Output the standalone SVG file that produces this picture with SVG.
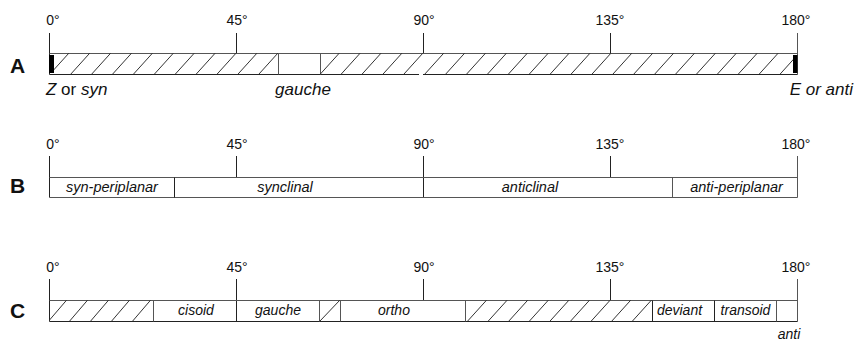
<svg xmlns="http://www.w3.org/2000/svg" width="855" height="341" viewBox="0 0 855 341">
  <defs>
    <style>
      .bg { fill: #ffffff; }
      .deg { font-family: "Liberation Sans", Arial, sans-serif; font-size: 14px; fill: #111; text-anchor: middle; }
      .row { font-family: "Liberation Sans", Arial, sans-serif; font-size: 21px; font-weight: bold; fill: #111; }
      .cap { font-family: "Liberation Sans", Arial, sans-serif; font-size: 17px; fill: #111; }
      .cell { font-family: "Liberation Sans", Arial, sans-serif; font-size: 14.5px; font-style: italic; fill: #111; text-anchor: middle; }
      .cellc { font-family: "Liberation Sans", Arial, sans-serif; font-size: 14px; font-style: italic; fill: #111; text-anchor: middle; }
      .it { font-style: italic; }
      .tick { stroke: #222; stroke-width: 1; fill: none; }
      .edge { stroke: #555; stroke-width: 1; fill: none; }
      .dark { stroke: #222; stroke-width: 1; fill: none; }
      .hatch { stroke: #333; stroke-width: 1; fill: none; }
    </style>
    <clipPath id="clipA1"><rect x="54" y="53" width="224" height="21"/></clipPath>
    <clipPath id="clipA2"><rect x="320" y="53" width="473" height="21"/></clipPath>
    <clipPath id="clipC1"><rect x="49" y="300" width="104" height="21"/></clipPath>
    <clipPath id="clipC3"><rect x="465" y="300" width="187" height="21"/></clipPath>
  </defs>

  <rect class="bg" x="0" y="0" width="855" height="341"/>

  <!-- Row A: Z/E, gauche -->
  <g id="row-a">
    <text class="row" x="10" y="73">A</text>
    <g id="a-scale">
      <text class="deg" x="53" y="25">0°</text>
      <text class="deg" x="237" y="25">45°</text>
      <text class="deg" x="424" y="25">90°</text>
      <text class="deg" x="610" y="25">135°</text>
      <text class="deg" x="796" y="25">180°</text>
      <path class="tick" d="M49.5 33 V74.5 M236.5 33 V53.5 M423.5 33 V53.5 M610.5 33 V53.5"/>
      <path class="edge" d="M797.5 33 V74.5"/>
    </g>
    <g id="a-bar">
      <path class="edge" d="M49.5 53.5 H797.5"/>
      <path class="dark" d="M49.5 74.5 H419 M423 74.5 H797.5"/>
      <path class="edge" d="M278.5 53.5 V74.5 M320.5 53.5 V74.5"/>
      <g class="hatch" clip-path="url(#clipA1)">
        <path d="M50 74 L69 53 M70.9 74 L89.9 53 M91.8 74 L110.8 53 M112.7 74 L131.7 53 M133.6 74 L152.6 53 M154.5 74 L173.5 53 M175.4 74 L194.4 53 M196.3 74 L215.3 53 M217.2 74 L236.2 53 M238.1 74 L257.1 53 M259 74 L278 53"/>
      </g>
      <g class="hatch" clip-path="url(#clipA2)">
        <path d="M320.4 74 L339.4 53 M341.3 74 L360.3 53 M362.2 74 L381.2 53 M383.1 74 L402.1 53 M404 74 L423 53 M424.9 74 L443.9 53 M445.8 74 L464.8 53 M466.7 74 L485.7 53 M487.6 74 L506.6 53 M508.5 74 L527.5 53 M529.4 74 L548.4 53 M550.3 74 L569.3 53 M571.2 74 L590.2 53 M592.1 74 L611.1 53 M613 74 L632 53 M633.9 74 L652.9 53 M654.8 74 L673.8 53 M675.7 74 L694.7 53 M696.6 74 L715.6 53 M717.5 74 L736.5 53 M738.4 74 L757.4 53 M759.3 74 L778.3 53 M780.2 74 L799.2 53"/>
      </g>
      <rect x="49" y="55" width="5" height="18" fill="#000"/>
      <rect x="793" y="55" width="4.5" height="18" fill="#000"/>
    </g>
    <text class="cap" x="46" y="95"><tspan class="it">Z</tspan> or <tspan class="it">syn</tspan></text>
    <text class="cap it" x="303" y="95" text-anchor="middle">gauche</text>
    <text class="cap it" x="853" y="95" text-anchor="end">E or anti</text>
  </g>

  <!-- Row B: Klyne–Prelog ranges -->
  <g id="row-b">
    <text class="row" x="10" y="193">B</text>
    <g id="b-scale">
      <text class="deg" x="53" y="149">0°</text>
      <text class="deg" x="237" y="149">45°</text>
      <text class="deg" x="424" y="149">90°</text>
      <text class="deg" x="610" y="149">135°</text>
      <text class="deg" x="796" y="149">180°</text>
      <path class="tick" d="M49.5 156 V197.5 M236.5 156 V177.5 M423.5 156 V197.5 M610.5 156 V177.5"/>
      <path class="edge" d="M797.5 156 V197.5"/>
    </g>
    <g id="b-bar">
      <path class="edge" d="M49.5 177.5 H797.5 M49.5 197.5 H797.5"/>
      <path class="dark" d="M174.5 177.5 V197.5"/>
      <path class="edge" d="M672.5 177.5 V197.5"/>
    </g>
    <g id="b-syn-periplanar"><text class="cell" x="112" y="191.5">syn-periplanar</text></g>
    <g id="b-synclinal"><text class="cell" x="285" y="191.5">synclinal</text></g>
    <g id="b-anticlinal"><text class="cell" x="530" y="191.5">anticlinal</text></g>
    <g id="b-anti-periplanar"><text class="cell" x="736.5" y="191.5">anti-periplanar</text></g>
  </g>

  <!-- Row C: cisoid / gauche / ortho / deviant / transoid / anti -->
  <g id="row-c">
    <text class="row" x="10" y="318">C</text>
    <g id="c-scale">
      <text class="deg" x="53" y="272">0°</text>
      <text class="deg" x="237" y="272">45°</text>
      <text class="deg" x="424" y="272">90°</text>
      <text class="deg" x="610" y="272">135°</text>
      <text class="deg" x="796" y="272">180°</text>
      <path class="tick" d="M49.5 279 V321.5 M236.5 279 V321.5 M423.5 279 V300.5 M610.5 279 V300.5"/>
      <path class="edge" d="M797.5 279 V321.5"/>
    </g>
    <g id="c-bar">
      <path class="edge" d="M49.5 300.5 H797.5"/>
      <path class="dark" d="M49.5 321.5 H797.5"/>
      <path class="edge" d="M153.5 300.5 V321.5 M319.5 300.5 V321.5 M340.5 300.5 V321.5 M465.5 300.5 V321.5 M776.5 300.5 V321.5"/>
      <path class="dark" d="M652.5 300.5 V321.5 M714.5 300.5 V321.5"/>
      <g class="hatch" clip-path="url(#clipC1)">
        <path d="M48.7 321 L66.7 300 M69.7 321 L87.7 300 M90.7 321 L108.7 300 M111.7 321 L129.7 300 M132.7 321 L150.7 300"/>
      </g>
      <path class="hatch" d="M320 321 L340 300"/>
      <g class="hatch" clip-path="url(#clipC3)">
        <path d="M467.7 321 L486.7 300 M488.3 321 L507.3 300 M508.9 321 L527.9 300 M529.5 321 L548.5 300 M550.1 321 L569.1 300 M570.7 321 L589.7 300 M591.3 321 L610.3 300 M611.9 321 L630.9 300 M632.5 321 L651.5 300"/>
      </g>
    </g>
    <g id="c-cisoid"><text class="cellc" x="196" y="315">cisoid</text></g>
    <g id="c-gauche"><text class="cellc" x="278" y="315">gauche</text></g>
    <g id="c-ortho"><text class="cellc" x="394" y="315">ortho</text></g>
    <g id="c-deviant"><text class="cellc" x="679.5" y="315">deviant</text></g>
    <g id="c-transoid"><text class="cellc" x="745.5" y="315">transoid</text></g>
    <g id="c-anti"><text class="cellc" x="789" y="339">anti</text></g>
  </g>
</svg>
